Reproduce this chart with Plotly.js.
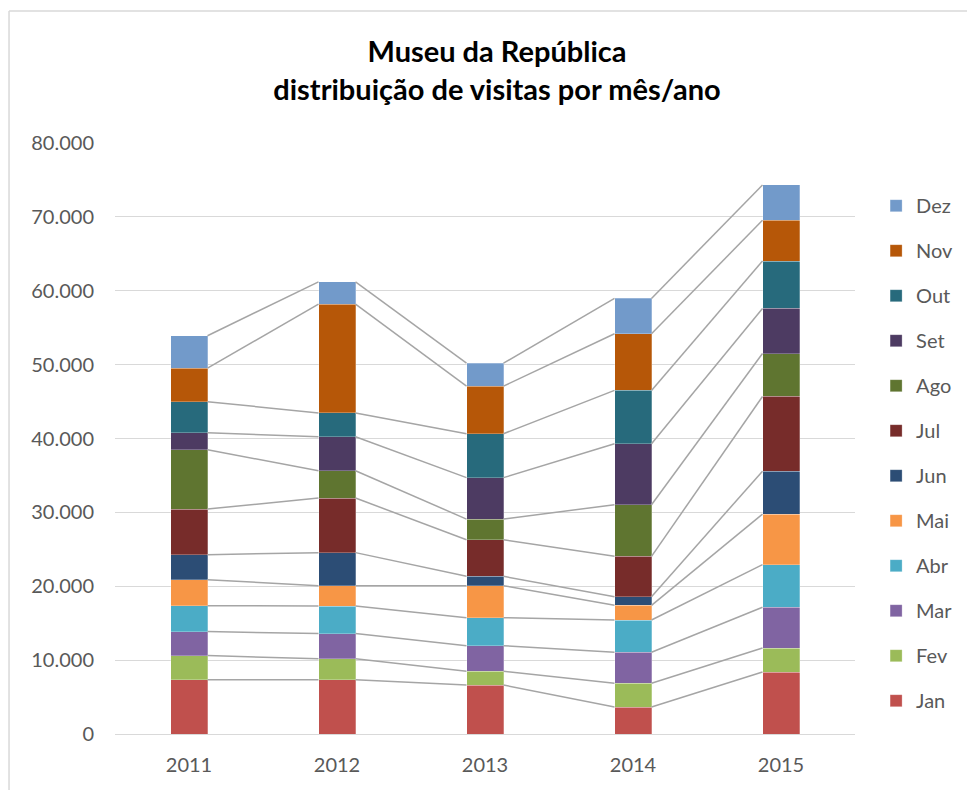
<!DOCTYPE html>
<html>
<head>
<meta charset="utf-8">
<script src="https://cdn.plot.ly/plotly-3.0.1.min.js"></script>
<style>html,body{margin:0;padding:0;background:#fff;}#chart{width:967px;height:790px;}</style>
</head>
<body>
<div id="chart"></div>
<script>
var years = ['2011', '2012', '2013', '2014', '2015'];
var months = ['Jan', 'Fev', 'Mar', 'Abr', 'Mai', 'Jun', 'Jul', 'Ago', 'Set', 'Out', 'Nov', 'Dez'];
var colors = ['#C0504D', '#9BBB59', '#8064A2', '#4BACC6', '#F79646', '#2C4D75', '#772C2A', '#5F7530', '#4D3B62', '#276A7C', '#B65708', '#729ACA'];

// visits per month (values for 2011..2015)
var Jan = [7360, 7360, 6630, 3650, 8380];
var Fev = [3250, 2840, 1850, 3210, 3250];
var Mar = [3250, 3390, 3480, 4200, 5520];
var Abr = [3510, 3730, 3790, 4370, 5770];
var Mai = [3520, 2760, 4330, 1990, 6850];
var Jun = [3380, 4470, 1260, 1170, 5810];
var Jul = [6180, 7390, 4960, 5460, 10110];
var Ago = [8030, 3700, 2790, 6990, 5810];
var Set = [2300, 4600, 5610, 8260, 6110];
var Out = [4200, 3220, 5950, 7210, 6410];
var Nov = [4550, 14720, 6440, 7670, 5520];
var Dez = [4380, 3030, 3110, 4780, 4780];
var series = [Jan, Fev, Mar, Abr, Mai, Jun, Jul, Ago, Set, Out, Nov, Dez];

var BAR_W = 0.25;
var xs = years.map(function (_, i) { return i; });
var traces = [];
var cum = years.map(function () { return 0; });
var lineTraces = [];
series.forEach(function (vals, m) {
  traces.push({
    type: 'bar', name: months[m], x: xs, y: vals,
    width: BAR_W, legendgroup: months[m], legendrank: 100 - m,
    marker: {color: colors[m], line: {color: 'rgba(255,255,255,0.35)', width: 0.75}},
    hoverinfo: 'name+y'
  });
  cum = cum.map(function (c, i) { return c + vals[i]; });
  var lx = [], ly = [];
  for (var i = 0; i < xs.length - 1; i++) {
    lx.push(xs[i] + BAR_W / 2, xs[i + 1] - BAR_W / 2, null);
    ly.push(cum[i], cum[i + 1], null);
  }
  lineTraces.push({
    type: 'scatter', mode: 'lines', x: lx, y: ly, showlegend: false,
    hoverinfo: 'skip', line: {color: '#A5A5A5', width: 1.5}
  });
});

var font = 'Lato, "Open Sans", sans-serif';
var layout = {
  width: 967, height: 790,
  margin: {l: 115, r: 112, t: 143, b: 56, autoexpand: false},
  barmode: 'stack',
  separators: ',.',
  paper_bgcolor: '#fff', plot_bgcolor: '#fff',
  font: {family: font, color: '#595959', size: 20},
  title: {
    text: '<b>Museu da República<br>distribuição de visitas por mês/ano</b>',
    font: {family: font, size: 29, color: '#000'},
    x: 0.514, xanchor: 'center', xref: 'container',
    y: 0.9215, yanchor: 'middle', yref: 'container'
  },
  xaxis: {
    range: [-0.5, 4.5], tickvals: xs, ticktext: years,
    showgrid: false, zeroline: false, showline: false, ticks: '',
    ticklabelstandoff: 17, fixedrange: true
  },
  yaxis: {
    range: [0, 80000], dtick: 10000, tickformat: ',d',
    showgrid: true, gridcolor: '#D9D9D9', gridwidth: 1,
    zeroline: true, zerolinecolor: '#D9D9D9', zerolinewidth: 1,
    showline: false, ticks: '', ticklabelstandoff: 20, fixedrange: true
  },
  legend: {
    xref: 'container', x: 0.906, xanchor: 'left', y: 0.927, yanchor: 'top',
    traceorder: 'grouped', tracegroupgap: 16,
    font: {family: font, size: 20, color: '#595959'},
    bgcolor: 'rgba(0,0,0,0)'
  },
  shapes: [
    {type: 'line', xref: 'paper', yref: 'paper', x0: -0.1432, x1: 1.2, y0: 1.2234, y1: 1.2234, line: {color: '#D9D9D9', width: 1.5}},
    {type: 'line', xref: 'paper', yref: 'paper', x0: -0.1432, x1: -0.1432, y0: 1.2234, y1: -0.2, line: {color: '#D9D9D9', width: 1.5}}
  ],
  showlegend: true
};

Plotly.newPlot('chart', lineTraces.concat(traces), layout, {displayModeBar: false, staticPlot: true});
</script>
</body>
</html>
